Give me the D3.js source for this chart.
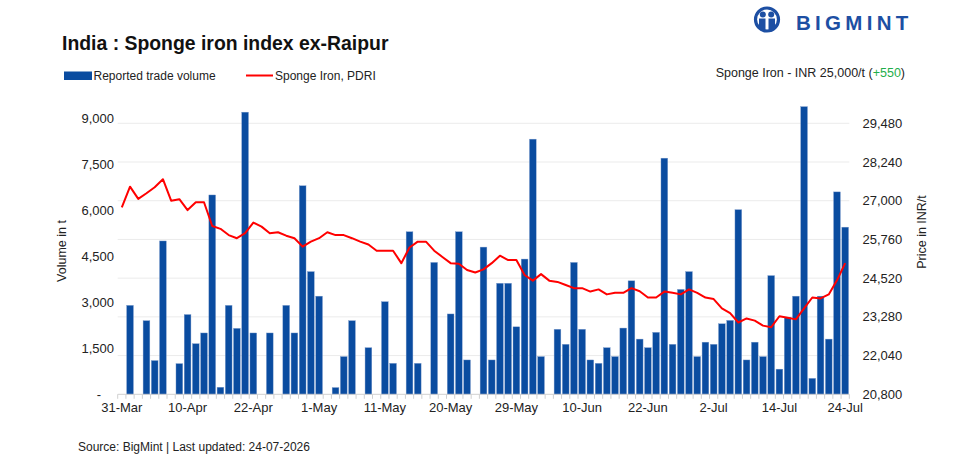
<!DOCTYPE html>
<html>
<head>
<meta charset="utf-8">
<script src="https://cdn.jsdelivr.net/npm/d3@7"></script>
<style>
    body { margin: 0; background: #fff; }
    svg { display: block; font-family: "Liberation Sans", Arial, sans-serif; }
</style>
</head>
<body>
<svg id="chart" width="959" height="467"></svg>
<script>
// trading days shown on the x axis
const dates = [
    "31-Mar", "1-Apr", "2-Apr", "3-Apr", "6-Apr", "7-Apr", "8-Apr", "9-Apr", "10-Apr",
    "13-Apr", "14-Apr", "15-Apr", "16-Apr", "17-Apr", "20-Apr", "21-Apr", "22-Apr",
    "23-Apr", "24-Apr", "25-Apr", "27-Apr", "28-Apr", "29-Apr", "30-Apr", "1-May",
    "2-May", "4-May", "5-May", "6-May", "7-May", "8-May", "9-May", "11-May",
    "12-May", "13-May", "14-May", "15-May", "16-May", "18-May", "19-May", "20-May",
    "21-May", "22-May", "23-May", "25-May", "26-May", "27-May", "28-May", "29-May",
    "1-Jun", "2-Jun", "3-Jun", "4-Jun", "5-Jun", "8-Jun", "9-Jun", "10-Jun",
    "11-Jun", "12-Jun", "15-Jun", "16-Jun", "17-Jun", "18-Jun", "19-Jun", "22-Jun",
    "23-Jun", "24-Jun", "25-Jun", "26-Jun", "29-Jun", "30-Jun", "1-Jul", "2-Jul",
    "3-Jul", "6-Jul", "7-Jul", "8-Jul", "9-Jul", "10-Jul", "13-Jul", "14-Jul",
    "15-Jul", "16-Jul", "17-Jul", "20-Jul", "21-Jul", "22-Jul", "23-Jul", "24-Jul"
];

// reported trade volume (t), 0 = no trade reported
const volumes = [
    0, 2900, 0, 2400, 1100, 5000, 0, 1000, 2600,
    1650, 2000, 6500, 230, 2900, 2150, 9200, 2000,
    0, 2000, 0, 2900, 2000, 6800, 4000, 3200,
    0, 220, 1230, 2400, 0, 1520, 0, 3020,
    1010, 0, 5300, 1010, 0, 4300, 0, 2620,
    5300, 1120, 0, 4800, 1120, 3620, 3620, 2200,
    4410, 8320, 1230, 0, 2120, 1630, 4300, 2120,
    1120, 1010, 1520, 1230, 2160, 3700, 1800, 1520,
    2020, 7700, 1630, 3420, 4000, 1230, 1700, 1630,
    2300, 2410, 6020, 1120, 1700, 1230, 3870, 820,
    2510, 3200, 9380, 520, 3200, 1800, 6600, 5450
];

// Sponge Iron PDRI (INR/t)
const prices = [
    26790, 27450, 27060, 27240, 27430, 27690, 27000, 27050, 26700,
    26950, 26950, 26190, 26100, 25900, 25800, 25960, 26300,
    26170, 25960, 25990, 25880, 25800, 25530, 25690, 25800,
    25990, 25900, 25900, 25800, 25690, 25600, 25400, 25400,
    25400, 25000, 25500, 25690, 25690, 25400, 25200, 25000,
    24980, 24780, 24700, 24800, 25000, 25240, 25100, 25100,
    24620, 24440, 24650, 24440, 24400, 24300, 24200, 24200,
    24090, 24160, 24000, 24050, 24050, 24200, 24100, 23900,
    23900, 24090, 24050, 24000, 24160, 24050, 23900, 23850,
    23550, 23400, 23100, 23230, 23160, 23000, 22950, 23300,
    23250, 23200, 23550, 23900, 23870, 24000, 24450, 25000
];

const volumeTicks = [0, 1500, 3000, 4500, 6000, 7500, 9000];
const priceTicks = [20800, 22040, 23280, 24520, 25760, 27000, 28240, 29480];
const dateTicks = ["31-Mar", "10-Apr", "22-Apr", "1-May", "11-May", "20-May",
    "29-May", "10-Jun", "22-Jun", "2-Jul", "14-Jul", "24-Jul"];

const blue = "#0a4ca0";
const red = "#ff0000";
const textColor = "#222";

function drawChart() {
    const svg = d3.select("#chart");

    const x = d3.scaleBand().domain(dates).range([117.7, 849.3]).paddingInner(0.18).paddingOuter(0.09);
    const yVol = d3.scaleLinear().domain([0, 9000]).range([394.3, 118.3]);
    const yPrice = d3.scaleLinear().domain([20800, 29480]).range([394.3, 123.3]);
    const fmt = d3.format(",");

    // gridlines follow the price axis
    svg.append("g").selectAll("line")
        .data(priceTicks.slice(1))
        .enter().append("line")
        .attr("x1", 117.7).attr("x2", 849.3)
        .attr("y1", d => yPrice(d)).attr("y2", d => yPrice(d))
        .attr("stroke", "#ebebeb").attr("stroke-width", 1);

    // bars
    svg.append("g").selectAll("rect")
        .data(dates.map((d, i) => ({ date: d, v: volumes[i] })).filter(d => d.v > 0))
        .enter().append("rect")
        .attr("x", d => x(d.date))
        .attr("width", x.bandwidth())
        .attr("y", d => yVol(d.v))
        .attr("height", d => yVol(0) - yVol(d.v))
        .attr("fill", blue)
        .attr("stroke", "#7d9ccc")
        .attr("stroke-width", 0.4);

    // x axis with a tick between every category
    const xAxis = svg.append("g").attr("transform", "translate(0,394.3)");
    xAxis.append("line").attr("x1", 117.7).attr("x2", 849.3).attr("stroke", "#d0d0d0");
    const step = x.step();
    xAxis.selectAll(".tick")
        .data(d3.range(dates.length + 1))
        .enter().append("line")
        .attr("x1", i => 117.7 + i * step).attr("x2", i => 117.7 + i * step)
        .attr("y1", 0).attr("y2", 4.5)
        .attr("stroke", "#d0d0d0");
    xAxis.selectAll("text")
        .data(dateTicks)
        .enter().append("text")
        .attr("x", d => x(d) + x.bandwidth() / 2)
        .attr("y", 18)
        .attr("text-anchor", "middle")
        .attr("font-size", 13)
        .attr("fill", textColor)
        .text(d => d);

    // price line
    const line = d3.line()
        .x((d, i) => x(dates[i]) + x.bandwidth() / 2)
        .y(d => yPrice(d));
    svg.append("path")
        .datum(prices)
        .attr("d", line)
        .attr("fill", "none")
        .attr("stroke", red)
        .attr("stroke-width", 2)
        .attr("stroke-linejoin", "round");

    // left axis labels
    svg.append("g").selectAll("text")
        .data(volumeTicks)
        .enter().append("text")
        .attr("x", d => d === 0 ? 101 : 114)
        .attr("y", d => yVol(d) + 4.5)
        .attr("text-anchor", "end")
        .attr("font-size", 13)
        .attr("fill", textColor)
        .text(d => d === 0 ? "-" : fmt(d));

    // right axis labels
    svg.append("g").selectAll("text")
        .data(priceTicks)
        .enter().append("text")
        .attr("x", 862.5)
        .attr("y", d => yPrice(d) + 4.5)
        .attr("font-size", 13)
        .attr("fill", textColor)
        .text(d => fmt(d));

    svg.append("text")
        .attr("transform", "translate(66,251) rotate(-90)")
        .attr("text-anchor", "middle")
        .attr("font-size", 12.5)
        .attr("fill", textColor)
        .text("Volume in t");

    svg.append("text")
        .attr("transform", "translate(926,232) rotate(-90)")
        .attr("text-anchor", "middle")
        .attr("font-size", 12.5)
        .attr("fill", textColor)
        .text("Price in INR/t");

    // title
    svg.append("text")
        .attr("x", 62).attr("y", 50)
        .attr("font-size", 19.4)
        .attr("font-weight", "bold")
        .attr("fill", "#111")
        .text("India : Sponge iron index ex-Raipur");

    // legend
    svg.append("rect").attr("x", 64).attr("y", 71.5).attr("width", 28).attr("height", 8.5).attr("fill", blue);
    svg.append("text").attr("x", 93.5).attr("y", 80).attr("font-size", 12).attr("fill", textColor)
        .text("Reported trade volume");
    svg.append("line").attr("x1", 246).attr("x2", 273).attr("y1", 75.5).attr("y2", 75.5)
        .attr("stroke", red).attr("stroke-width", 2);
    svg.append("text").attr("x", 275).attr("y", 80).attr("font-size", 12).attr("fill", textColor)
        .text("Sponge Iron, PDRI");

    const latest = svg.append("text").attr("x", 905).attr("y", 77).attr("text-anchor", "end")
        .attr("font-size", 12.5).attr("fill", textColor);
    latest.append("tspan").text("Sponge Iron - INR " + fmt(prices[prices.length - 1]) + "/t (");
    latest.append("tspan").attr("fill", "#1fae4b")
        .text("+" + fmt(prices[prices.length - 1] - prices[prices.length - 2]));
    latest.append("tspan").text(")");

    // source
    svg.append("text").attr("x", 78).attr("y", 451).attr("font-size", 12).attr("fill", textColor)
        .text("Source: BigMint | Last updated: 24-07-2026");

    drawLogo(svg);
}

function drawLogo(svg) {
    const g = svg.append("g").attr("transform", "translate(767,19.5)");
    g.append("circle").attr("r", 11.5).attr("fill", "none").attr("stroke", "#1d4fa3").attr("stroke-width", 3.2);
    g.append("circle").attr("cx", -4.2).attr("cy", -5).attr("r", 3).attr("fill", "#1d4fa3");
    g.append("circle").attr("cx", 4.2).attr("cy", -5).attr("r", 3).attr("fill", "#1d4fa3");
    g.append("path").attr("d", "M-8,-1 L-1.5,-1 L-1.5,10 L-4.5,12 L-8,9 Z").attr("fill", "#1d4fa3");
    g.append("path").attr("d", "M8,-1 L1.5,-1 L1.5,10 L4.5,12 L8,9 Z").attr("fill", "#1d4fa3");
    svg.append("text")
        .attr("x", 796).attr("y", 29.5)
        .attr("font-size", 20.5)
        .attr("font-weight", "bold")
        .attr("letter-spacing", 4.3)
        .attr("fill", "#1d4fa3")
        .text("BIGMINT");
}

drawChart();
</script>
</body>
</html>
